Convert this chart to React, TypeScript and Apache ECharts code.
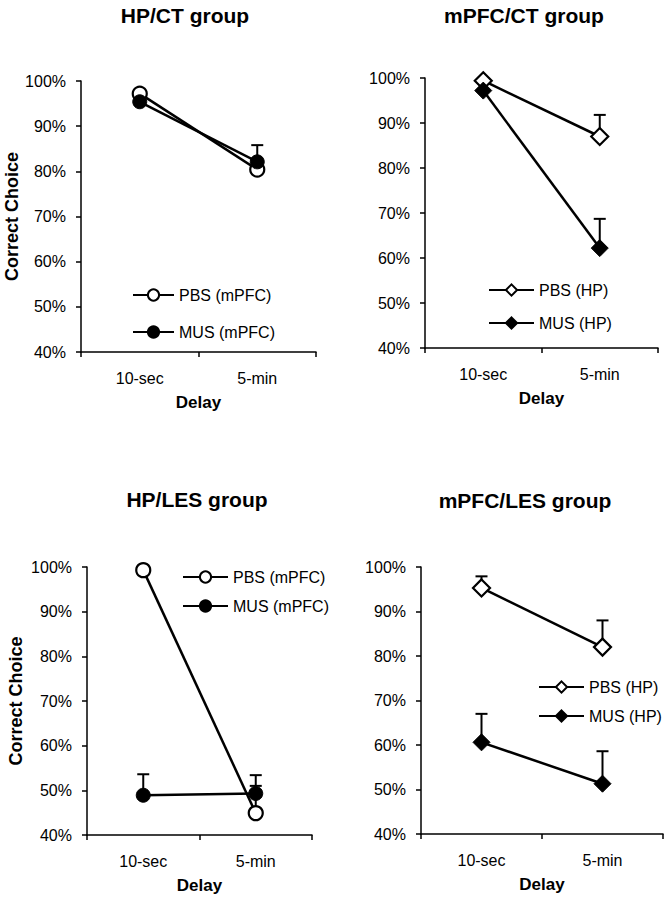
import React, { useEffect, useRef } from "react";
import * as echarts from "echarts";

const FONT = "'Liberation Sans', Arial, Helvetica, sans-serif";

const categories = ["10-sec", "5-min"];
const yTicks = [40, 50, 60, 70, 80, 90, 100];

const panelTitles = ["HP/CT group", "mPFC/CT group", "HP/LES group", "mPFC/LES group"];

// HP/CT group
const hpctPbs = [97.2, 80.4];
const hpctPbsErr = [0, 0];
const hpctMus = [95.4, 82.1];
const hpctMusErr = [0, 3.7];

// mPFC/CT group
const mpfcctPbs = [99.4, 87.0];
const mpfcctPbsErr = [0, 4.8];
const mpfcctMus = [97.2, 62.2];
const mpfcctMusErr = [0, 6.5];

// HP/LES group
const hplesPbs = [99.3, 44.9];
const hplesPbsErr = [0, 6.1];
const hplesMus = [48.9, 49.3];
const hplesMusErr = [4.7, 4.1];

// mPFC/LES group
const mpfclesPbs = [95.3, 82.0];
const mpfclesPbsErr = [2.6, 6.0];
const mpfclesMus = [60.6, 51.3];
const mpfclesMusErr = [6.4, 7.3];

const panels = [
  {
    title: panelTitles[0],
    names: ["PBS (mPFC)", "MUS (mPFC)"],
    symbol: "circle",
    pbs: hpctPbs, pbsErr: hpctPbsErr, mus: hpctMus, musErr: hpctMusErr,
  },
  {
    title: panelTitles[1],
    names: ["PBS (HP)", "MUS (HP)"],
    symbol: "diamond",
    pbs: mpfcctPbs, pbsErr: mpfcctPbsErr, mus: mpfcctMus, musErr: mpfcctMusErr,
  },
  {
    title: panelTitles[2],
    names: ["PBS (mPFC)", "MUS (mPFC)"],
    symbol: "circle",
    pbs: hplesPbs, pbsErr: hplesPbsErr, mus: hplesMus, musErr: hplesMusErr,
  },
  {
    title: panelTitles[3],
    names: ["PBS (HP)", "MUS (HP)"],
    symbol: "diamond",
    pbs: mpfclesPbs, pbsErr: mpfclesPbsErr, mus: mpfclesMus, musErr: mpfclesMusErr,
  },
];

// layout (pixels)
const grids = [
  { left: 81, top: 81, width: 235, height: 271 },
  { left: 425, top: 78, width: 233, height: 270 },
  { left: 87, top: 567, width: 225, height: 268 },
  { left: 421, top: 567, width: 242, height: 267 },
];
const titlePos = [
  [185, 15],
  [524, 15],
  [197, 499],
  [525, 500],
];
const legendPos = [
  { left: 132, top: 287, itemWidth: 41, gap: 37 },
  { left: 488, top: 282, itemWidth: 45, gap: 33 },
  { left: 182, top: 569, itemWidth: 45, gap: 29 },
  { left: 538, top: 679, itemWidth: 45, gap: 29 },
];
const yNameGap = [59, 0, 62, 0];

function errorRender(params: any, api: any) {
  const x = api.value(0);
  const v = api.value(1);
  const e = api.value(2);
  const p0 = api.coord([x, v]);
  const p1 = api.coord([x, v + e]);
  const style = { stroke: "#000", lineWidth: 2 };
  return {
    type: "group",
    children: [
      { type: "line", shape: { x1: p0[0], y1: p0[1], x2: p1[0], y2: p1[1] }, style },
      { type: "line", shape: { x1: p1[0] - 6, y1: p1[1], x2: p1[0] + 6, y2: p1[1] }, style },
    ],
  };
}

function buildOption() {
  const grid: any[] = [];
  const xAxis: any[] = [];
  const yAxis: any[] = [];
  const series: any[] = [];
  const legend: any[] = [];
  const graphic: any[] = [];

  panels.forEach((p, i) => {
    grid.push({ ...grids[i], containLabel: false });
    xAxis.push({
      type: "category",
      gridIndex: i,
      data: categories,
      boundaryGap: true,
      axisLine: { show: true, lineStyle: { color: "#000", width: 1.5 } },
      axisTick: { show: true, length: 5, lineStyle: { color: "#000", width: 1.5 } },
      axisLabel: { color: "#000", fontSize: 16, fontFamily: FONT, margin: 18 },
      splitLine: { show: false },
      name: "Delay",
      nameLocation: "middle",
      nameGap: 42,
      nameTextStyle: { color: "#000", fontSize: 17, fontWeight: "bold", fontFamily: FONT },
    });
    yAxis.push({
      type: "value",
      gridIndex: i,
      min: yTicks[0],
      max: yTicks[yTicks.length - 1],
      interval: 10,
      axisLine: { show: true, lineStyle: { color: "#000", width: 1.5 } },
      axisTick: { show: true, length: 5, lineStyle: { color: "#000", width: 1.5 } },
      axisLabel: { color: "#000", fontSize: 16, fontFamily: FONT, margin: 15, formatter: "{value}%" },
      splitLine: { show: false },
      name: yNameGap[i] ? "Correct Choice" : "",
      nameLocation: "middle",
      nameRotate: 90,
      nameGap: yNameGap[i],
      nameTextStyle: { color: "#000", fontSize: 18, fontWeight: "bold", fontFamily: FONT },
    });
    const size = p.symbol === "diamond" ? 17 : 14;
    series.push({
      type: "line",
      name: p.names[0],
      xAxisIndex: i,
      yAxisIndex: i,
      data: p.pbs,
      symbol: p.symbol,
      symbolSize: size,
      z: 3,
      lineStyle: { color: "#000", width: 2.5 },
      itemStyle: { color: "#fff", borderColor: "#000", borderWidth: 2.2 },
    });
    series.push({
      type: "line",
      name: p.names[1],
      xAxisIndex: i,
      yAxisIndex: i,
      data: p.mus,
      symbol: p.symbol,
      symbolSize: size,
      z: 3,
      lineStyle: { color: "#000", width: 2.5 },
      itemStyle: { color: "#000", borderColor: "#000", borderWidth: 1 },
    });
    const errData = (vals: number[], errs: number[]) =>
      vals.map((v, k) => [k, v, errs[k]]).filter((d) => d[2] > 0);
    series.push({
      type: "custom",
      name: p.names[0] + " err",
      xAxisIndex: i,
      yAxisIndex: i,
      z: 2,
      renderItem: errorRender,
      encode: { x: 0, y: 1 },
      data: errData(p.pbs, p.pbsErr),
    });
    series.push({
      type: "custom",
      name: p.names[1] + " err",
      xAxisIndex: i,
      yAxisIndex: i,
      z: 2,
      renderItem: errorRender,
      encode: { x: 0, y: 1 },
      data: errData(p.mus, p.musErr),
    });
    const lp = legendPos[i];
    legend.push({
      data: p.names,
      orient: "vertical",
      left: lp.left,
      top: lp.top,
      padding: 0,
      itemWidth: lp.itemWidth,
      itemHeight: 14,
      itemGap: lp.gap - 16,
      selectedMode: false,
      textStyle: { color: "#000", fontSize: 16, fontFamily: FONT, lineHeight: 16 },
    });
    graphic.push({
      type: "text",
      x: titlePos[i][0],
      y: titlePos[i][1],
      style: {
        text: p.title,
        fill: "#000",
        font: `bold 21px ${FONT}`,
        textAlign: "center",
        textVerticalAlign: "middle",
      },
    });
  });

  return {
    animation: false,
    backgroundColor: "#fff",
    textStyle: { fontFamily: FONT },
    grid,
    xAxis,
    yAxis,
    series,
    legend,
    graphic,
  };
}

export default function App() {
  const ref = useRef<HTMLDivElement>(null);
  useEffect(() => {
    if (!ref.current) return;
    const chart = echarts.init(ref.current, null, { renderer: "svg" });
    chart.setOption(buildOption());
    return () => chart.dispose();
  }, []);
  return (
    <div
      ref={ref}
      style={{ position: "absolute", left: 0, top: 0, width: 667, height: 899, background: "#fff" }}
    />
  );
}
